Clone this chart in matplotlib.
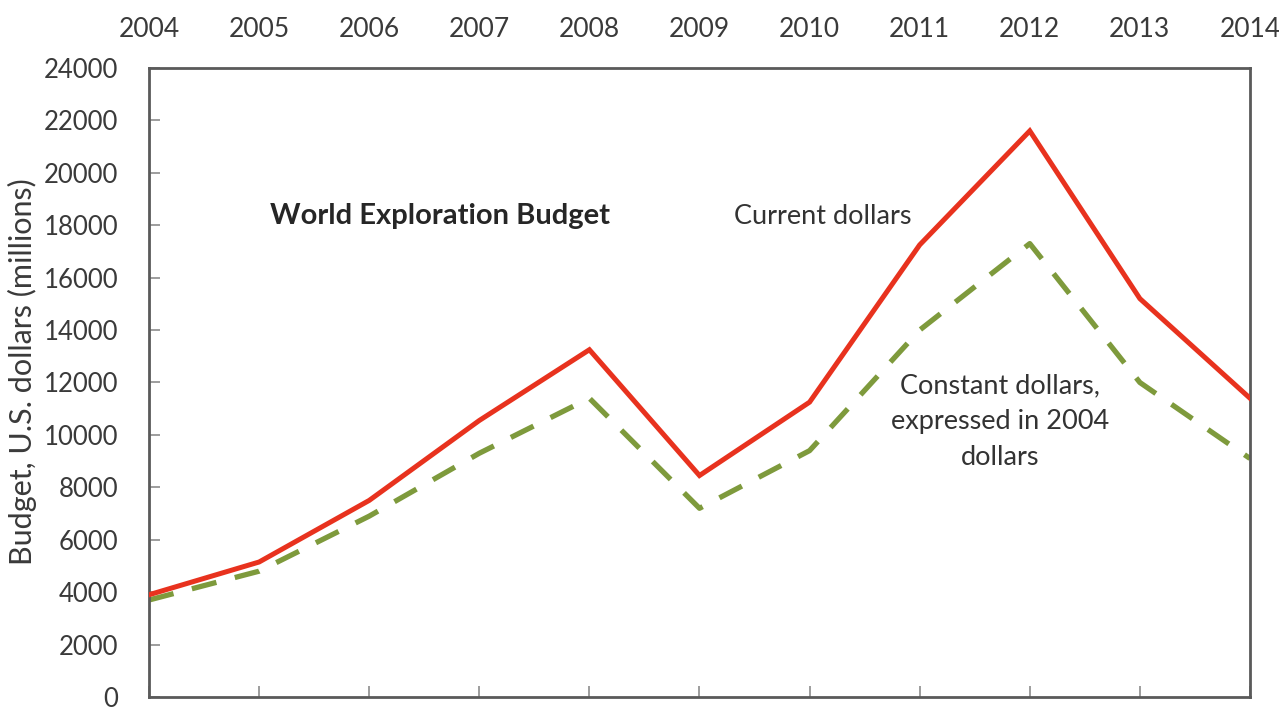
import matplotlib
matplotlib.use("Agg")
import matplotlib.pyplot as plt

plt.rcParams['font.family'] = ['Lato', 'DejaVu Sans']

years = [2004, 2005, 2006, 2007, 2008, 2009, 2010, 2011, 2012, 2013, 2014]
current_dollars = [3900, 5150, 7500, 10550, 13250, 8450, 11250, 17250, 21600, 15200, 11400]
constant_dollars = [3700, 4800, 6900, 9300, 11400, 7200, 9400, 14000, 17300, 12000, 9100]
y_ticks = list(range(0, 24001, 2000))
year_labels = [str(y) for y in years]

fig = plt.figure(figsize=(12.79, 7.12), dpi=100)
ax = fig.add_axes([0.1165, 0.0211, 0.8608, 0.8834])

ax.plot(years, current_dollars, color='#E8321E', lw=3.6, solid_joinstyle='miter', zorder=3)
ax.plot(years, constant_dollars, color='#7E9A3C', lw=3.8, dashes=(4.8, 3.6), zorder=2)

ax.set_xlim(2004, 2014)
ax.set_ylim(0, 24000)

ax.set_yticks(y_ticks)
ax.set_yticklabels([str(v) for v in y_ticks])
ax.set_xticks(years)
ax.set_xticklabels(year_labels)

ax.tick_params(axis='x', direction='in', top=False, bottom=True, labeltop=True,
               labelbottom=False, length=8, width=1.2, color='#8c8c8c',
               labelsize=19, labelcolor='#3a3a3a', pad=19)
ax.tick_params(axis='y', direction='in', length=8, width=1.2, color='#8c8c8c',
               labelsize=18.5, labelcolor='#3a3a3a', pad=22)

for side in ['left', 'right', 'top', 'bottom']:
    ax.spines[side].set_color('#5a5a5a')
    ax.spines[side].set_linewidth(2)

ax.set_ylabel('Budget, U.S. dollars (millions)', fontsize=22, color='#3a3a3a')
ax.yaxis.set_label_coords(-0.1015, 0.517)

ax.text(2006.64, 18350, 'World Exploration Budget', fontsize=21, fontweight='bold',
        color='#262626', ha='center', va='center')
ax.text(2010.12, 18350, 'Current dollars', fontsize=19.5, color='#333333',
        ha='center', va='center')
ax.text(2011.73, 10500, 'Constant dollars,\nexpressed in 2004\ndollars', fontsize=19.5,
        color='#333333', ha='center', va='center', linespacing=1.55)

fig.savefig('out.png', dpi=100)
